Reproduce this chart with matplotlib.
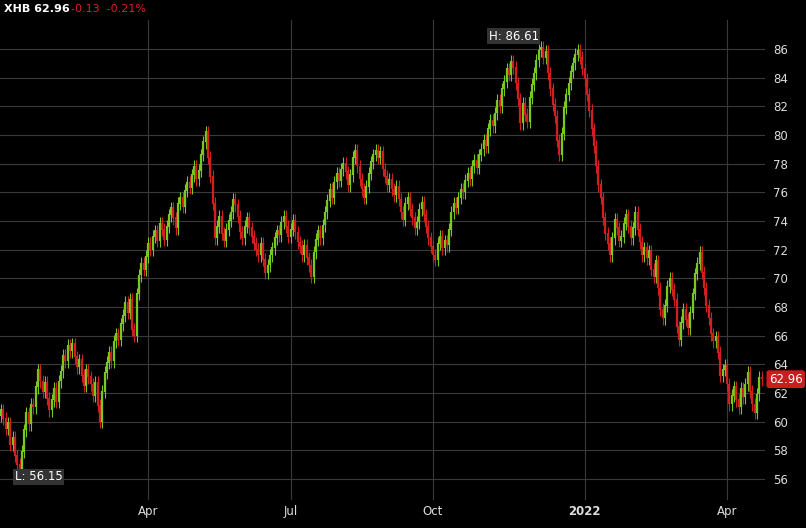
import matplotlib.pyplot as plt

# daily closes, Jan 2021 - Apr 2022
closes = [
    60.8, 60.2, 59.5, 59.9, 58.4, 58.9, 57.6, 57.0, 56.6, 57.9,
    59.4, 60.6, 59.8, 61.2, 61.0, 62.4, 63.6, 62.8, 62.1, 62.7,
    61.6, 60.8, 61.5, 62.3, 61.4, 62.8, 63.5, 64.6, 64.2, 65.3,
    64.9, 65.4, 64.5, 63.8, 64.3, 63.2, 62.5, 63.6, 63.1, 62.6,
    61.8, 62.7, 61.1, 60.0, 62.1, 63.4, 64.1, 64.8, 64.2, 65.6,
    66.1, 65.7, 66.8, 67.4, 68.3, 67.6, 68.5, 66.4, 66.0, 68.9,
    70.2, 71.0, 70.6, 71.5, 72.4, 72.0, 72.9, 73.3, 72.6, 73.8,
    73.4, 72.7, 73.6, 74.4, 74.9, 74.2, 73.5, 75.2, 75.6, 75.0,
    76.1, 76.7, 76.3, 77.2, 77.8, 76.9, 77.5, 78.6, 79.5, 80.2,
    78.4, 77.1, 75.2, 72.8, 73.6, 74.3, 73.1, 72.6, 73.4, 74.0,
    74.6, 75.5, 75.1, 74.3, 73.2, 72.8, 73.6, 74.2, 73.5, 72.9,
    72.4, 72.0, 71.6, 72.4, 71.3, 70.4, 70.9, 71.6, 72.1, 72.8,
    73.3, 73.0, 73.9, 74.3, 73.6, 72.9, 73.4, 74.0, 73.2, 72.5,
    72.2, 71.6, 72.3, 71.4, 70.9, 70.1, 71.8, 72.7, 73.3, 72.8,
    73.7, 74.6, 75.4, 76.2, 75.6, 76.7, 77.3, 76.8, 77.6, 78.0,
    77.4, 76.5, 77.2, 78.4, 78.9, 77.8, 76.9, 76.2, 75.6, 76.4,
    77.3, 78.1, 78.6, 78.9, 78.4, 78.8, 77.6, 77.1, 76.5, 76.9,
    76.2, 75.8, 76.4, 75.5, 74.6, 74.1, 75.2, 75.6, 74.8, 74.2,
    73.5, 73.9, 74.8, 75.3, 74.4, 73.6, 72.8, 72.2, 71.6, 71.3,
    72.4, 72.9, 72.1, 72.6, 72.3, 73.4, 74.6, 75.2, 74.9, 75.6,
    76.2, 76.0, 76.8, 77.3, 76.9, 77.8, 78.2, 77.7, 78.6, 79.0,
    79.6, 79.2, 80.4, 81.0, 80.6, 81.5, 82.4, 82.0, 83.2, 83.7,
    84.6, 84.2, 85.1, 84.7, 83.6, 82.5, 80.8, 82.2, 81.4, 80.9,
    82.6, 83.5, 84.3, 85.2, 85.9, 86.1, 85.4, 85.8, 84.3, 83.2,
    82.1, 81.3, 79.6, 78.6, 80.1, 81.9, 82.8, 83.6, 84.4, 85.0,
    85.6, 85.9, 85.4, 84.6, 83.9, 82.8, 81.7, 80.4, 79.2, 77.8,
    76.5, 75.6, 74.2, 73.1, 72.4, 71.6, 72.8, 74.1, 73.5, 72.6,
    72.9, 73.8, 74.4, 73.6, 72.8, 73.5, 74.6, 73.4, 72.5, 71.6,
    72.1, 71.4, 71.9, 70.6, 70.1, 71.2, 69.3, 67.8, 67.2, 68.1,
    69.4, 70.0, 69.2, 68.5, 66.6, 65.7, 66.9, 67.8, 67.1, 66.5,
    67.6, 68.9, 70.3, 71.0, 71.8, 70.4, 69.3, 68.1, 67.2, 66.1,
    65.6, 65.9, 64.8, 63.2, 63.6, 63.9, 62.6, 61.2, 61.8, 62.4,
    61.5, 61.0, 62.3, 61.7, 62.6, 63.4, 62.1, 61.2, 60.6, 61.9,
    63.09, 62.96,
]
opens = [60.4] + closes[:-1]

tick_pos = [64, 126, 188, 254, 316]
tick_labels = ["Apr", "Jul", "Oct", "2022", "Apr"]
y_ticks = list(range(56, 88, 2))

UP = "#78c81e"
DOWN = "#d21e1e"

fig = plt.figure(figsize=(8.06, 5.28), dpi=100, facecolor="black")
ax = fig.add_axes([0, 1 - 500 / 528, 765 / 806, 480 / 528], facecolor="black")

for i, (o, c) in enumerate(zip(opens, closes)):
    col = UP if c >= o else DOWN
    lo, hi = min(o, c), max(o, c)
    ax.vlines(i, lo - 0.45, hi + 0.45, color=col, lw=0.8)
    ax.vlines(i, lo, hi + 0.05, color=col, lw=1.6)

ax.set_xlim(-0.5, len(closes) + 0.5)
ax.set_ylim(54.53, 88.02)
ax.set_yticks(y_ticks)
ax.set_xticks(tick_pos)
ax.grid(True, color="#3a3a3a", lw=0.8)
ax.set_axisbelow(True)
ax.tick_params(length=0, colors="#dddddd", labelsize=8.5)
ax.yaxis.tick_right()
ax.tick_params(axis="y", pad=6)
ax.set_xticklabels(tick_labels)
for lab in ax.get_xticklabels():
    if lab.get_text() == "2022":
        lab.set_fontweight("bold")
for s in ax.spines.values():
    s.set_visible(False)

# high / low labels
box = dict(boxstyle="square,pad=0.15", fc="#333333", ec="none")
ax.text(234, 86.9, "H: 86.61", color="white", fontsize=8.5,
        ha="right", va="center", bbox=box)
ax.text(6, 56.15, "L: 56.15", color="white", fontsize=8.5,
        ha="left", va="center", bbox=box)
ax.text(1.005, (closes[-1] - 54.53) / (88.02 - 54.53), "62.96",
        transform=ax.transAxes, color="white", fontsize=8.5, ha="left",
        va="center", bbox=dict(boxstyle="round,pad=0.2", fc="#c81e1e", ec="none"))

fig.text(4 / 806, 1 - 9 / 528, "XHB 62.96", color="white", fontsize=8,
         fontweight="bold", va="center")
fig.text(71 / 806, 1 - 9 / 528, "-0.13  -0.21%", color="#e02020", fontsize=8,
         va="center")

fig.savefig("out.png", dpi=100, facecolor="black")
